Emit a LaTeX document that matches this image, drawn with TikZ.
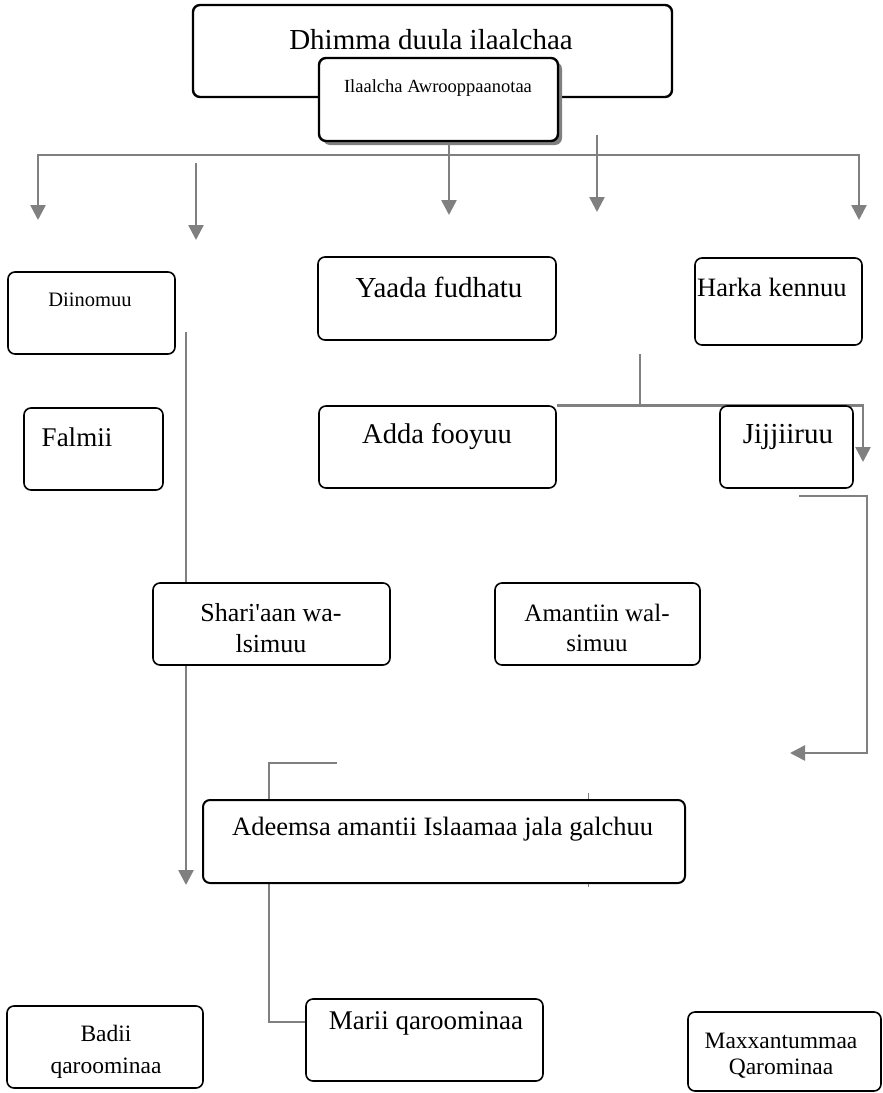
\documentclass[tikz,border=0pt]{standalone}
\usepackage{fontspec}
\setmainfont{Liberation Serif}
\usetikzlibrary{arrows.meta,fit,shadows,backgrounds}
\tikzset{
  box/.style={draw=black, fill=white, rounded corners=7pt, line width=1.6pt, inner sep=0pt},
  bigbox/.style={box, line width=2.4pt},
  conn/.style={draw=gray, line width=2.6pt},
  thin/.style={draw=gray, line width=1pt},
  tip/.style={-{Triangle[width=15pt,length=15pt]}},
  both/.style={{Triangle[width=15pt,length=15pt]}-{Triangle[width=15pt,length=15pt]}},
  lbl/.style={inner sep=0pt, align=center}
}
\newcommand{\fs}[1]{\fontsize{#1}{1.22\dimexpr #1pt\relax}\selectfont}
\newcommand{\fsk}[2]{\fontsize{#1}{#2}\selectfont}
\begin{document}
\begin{tikzpicture}[x=1pt,y=-1pt]
\useasboundingbox (0,0) rectangle (883,1093);
% boxes
\node[bigbox, fit={(193,5) (672,97)}] (A) {};
\node[lbl, font=\fs{29}] (tA) at (431,40) {Dhimma duula ilaalchaa};
\node[bigbox, fit={(319,58) (558,141)}, drop shadow={shadow xshift=4pt,shadow yshift=-4pt,fill=gray,opacity=1}] (B) {};
\node[lbl, font=\fs{18.5}] (tB) at (438,88) {Ilaalcha Awrooppaanotaa};

\node[box, fit={(8,272) (175,354)}] (D) {};
\node[lbl, font=\fs{20.5}] (tD) at (90,300) {Diinomuu};
\node[box, fit={(24,408) (163,490)}] (F) {};
\node[lbl, font=\fs{27}] (tF) at (77,437) {Falmii};
\node[box, fit={(318,257) (556,340)}] (Y) {};
\node[lbl, font=\fs{29}] (tY) at (439,287) {Yaada fudhatu};
\node[box, fit={(695,258) (862,345)}] (H) {};
\node[lbl, font=\fs{26.5}, anchor=west] (tH) at (697,287) {Harka kennuu};
\node[box, fit={(319,406) (556,488)}] (AF) {};
\node[lbl, font=\fs{28.5}] (tAF) at (437,437) {Adda fooyuu};
\node[box, fit={(720,406) (853,488)}] (J) {};
\node[lbl, font=\fs{29}] (tJ) at (788,437) {Jijjiiruu};
\node[box, fit={(153,583) (390,665)}] (S) {};
\node[lbl, font=\fs{26}] (tS) at (271,628) {Shari\textquotesingle aan wa-\\lsimuu};
\node[box, fit={(495,583) (700,665)}] (AM) {};
\node[lbl, font=\fs{25}] (tAM) at (597,628) {Amantiin wal-\\simuu};
\node[bigbox, line width=2pt, fit={(203,800) (685,883)}] (AD) {};
\node[lbl, font=\fs{26.5}, anchor=west] (tAD) at (232,829) {Adeemsa amantii Islaamaa jala galchuu};
\node[box, fit={(7,1006) (203,1088)}] (BQ) {};
\node[lbl, font=\fsk{23.5}{32}] (tBQ) at (106,1052) {Badii\\qaroominaa};
\node[box, fit={(306,999) (543,1081)}] (MQ) {};
\node[lbl, font=\fs{27}] (tMQ) at (426,1023) {Marii qaroominaa};
\node[box, fit={(688,1012) (881,1091)}] (MX) {};
\node[lbl, font=\fsk{23.5}{26}] (tMX) at (781,1056) {Maxxantummaa\\Qarominaa};

% free ends
\coordinate (a1) at (38,220);
\coordinate (a2) at (38,155);
\coordinate (a3) at (859,155);
\coordinate (a4) at (859,220);
\coordinate (b1) at (196,163);
\coordinate (b2) at (196,240);
\coordinate (c1) at (449,141);
\coordinate (c2) at (449,215);
\coordinate (d1) at (597,135);
\coordinate (d2) at (597,212);
\coordinate (e1) at (186,332);
\coordinate (e2) at (186,885);
\coordinate (f1) at (640,354);
\coordinate (f4) at (863,462);
\coordinate (g1) at (799,496);
\coordinate (g2) at (867,496);
\coordinate (g3) at (867,753);
\coordinate (g4) at (790,753);
\coordinate (h1) at (337,763);
\coordinate (h2) at (269,763);
\coordinate (h3) at (269,1022);
\coordinate (k1) at (588,793);
\coordinate (k2) at (588,887);

\begin{scope}[on background layer]
\draw[conn, both] (a1) -- (a2) -- (a3) -- (a4);
\draw[conn, tip] (b1) -- (b2);
\draw[conn, tip] (c1) -- (c2);
\draw[conn, tip] (d1) -- (d2);
\draw[conn, tip] (e1) -- (e2);
\draw[conn] (f1) -- (f1 |- AF.north);
\draw[conn, tip] (AF.north east) -- (AF.north east -| f4) -- (f4);
\draw[conn, tip] (g1) -- (g2) -- (g3) -- (g4);
\draw[conn] (h1) -- (h2) -- (h3) -- (h3 -| MQ.west);
\draw[thin] (k1) -- (k2);
\end{scope}
\end{tikzpicture}
\end{document}
